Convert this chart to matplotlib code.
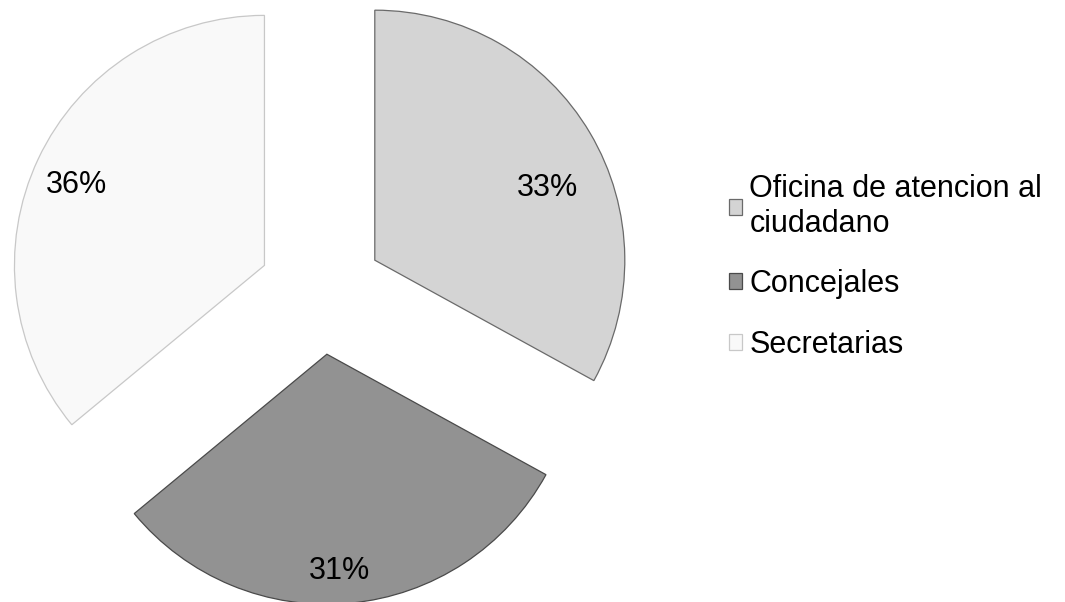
import numpy as np
import matplotlib.pyplot as plt

plt.rcParams['font.family'] = ['Liberation Sans', 'DejaVu Sans']

# dependencias consultadas
labels = ['Oficina de atencion al\nciudadano', 'Concejales', 'Secretarias']
shares = [33, 31, 36]
colors = ['#d4d4d4', '#929292', '#f9f9f9']
edges = ['#6a6a6a', '#4a4a4a', '#c8c8c8']

# where each percentage sits inside its slice
pct_r = [0.75, 0.87, 0.82]
pct_shift = [-8, -2, 2]

fig = plt.figure(figsize=(10.65, 6.02), dpi=100)
ax = fig.add_axes([0, 0, 1, 1])

explode = [0.25, 0.25, 0.25]
wedges, texts, autotexts = ax.pie(
    shares, colors=colors, startangle=90, counterclock=False,
    explode=explode, radius=1.0,
    autopct='%1.0f%%', pctdistance=0.8,
    textprops={'fontsize': 22, 'color': 'black'},
)
for w, ec in zip(wedges, edges):
    w.set_edgecolor(ec)
    w.set_linewidth(0.9)

for w, t, r, s, ex in zip(wedges, autotexts, pct_r, pct_shift, explode):
    mid = np.deg2rad((w.theta1 + w.theta2) / 2)
    ang = mid + np.deg2rad(s)
    cx, cy = ex * np.cos(mid), ex * np.sin(mid)
    t.set_position((cx + r * np.cos(ang), cy + r * np.sin(ang)))

# pie centre sits at (321, 292) px, radius 250 px
ax.set_xlim(-321 / 250, (1065 - 321) / 250)
ax.set_ylim(-(602 - 292) / 250, 292 / 250)
ax.set_aspect('auto')
ax.axis('off')

leg = ax.legend(
    wedges, labels, loc='upper left',
    bbox_to_anchor=(729 / 1065, 1 - 174 / 602), bbox_transform=fig.transFigure,
    frameon=False, fontsize=22, handlelength=0.42, handleheight=0.42,
    handletextpad=0.25, labelspacing=1.0, borderpad=0, borderaxespad=0,
)

fig.savefig('out.png', dpi=100, facecolor='white')
